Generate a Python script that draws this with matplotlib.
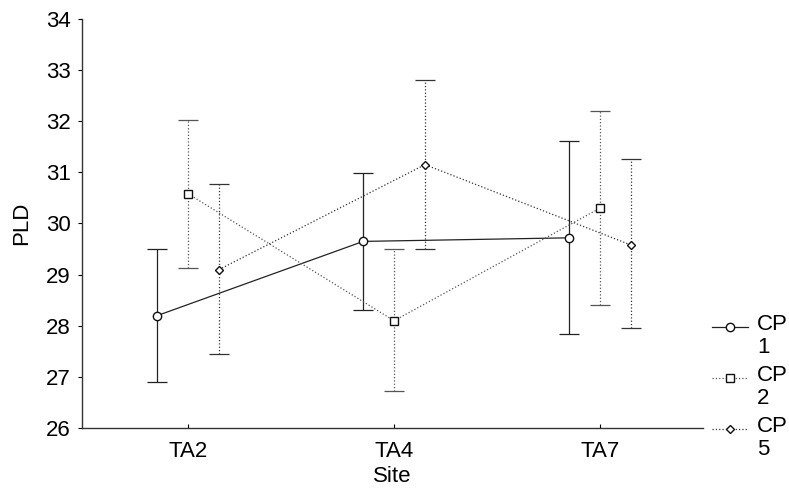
import numpy as np
import matplotlib.pyplot as plt
from matplotlib.lines import Line2D

plt.rcParams['font.family'] = ['Liberation Sans', 'DejaVu Sans']

# data
sites = ['TA2', 'TA4', 'TA7']
cp1_mean = [28.2, 29.65, 29.72]
cp1_low = [26.9, 28.3, 27.85]
cp1_high = [29.5, 30.98, 31.62]
cp2_mean = [30.58, 28.1, 30.3]
cp2_low = [29.13, 26.73, 28.4]
cp2_high = [32.03, 29.5, 32.2]
cp5_mean = [29.1, 31.15, 29.58]
cp5_low = [27.45, 29.5, 27.95]
cp5_high = [30.78, 32.8, 31.27]
legend_labels = ['CP\n1', 'CP\n2', 'CP\n5']

fig = plt.figure(figsize=(7.89, 4.95), dpi=100)
ax = fig.add_axes([0.104, 0.135, 0.787, 0.827])

x = np.arange(len(sites))
series = [
    (cp1_mean, cp1_low, cp1_high, -0.15, 'o', 6, '-', '#222222'),
    (cp2_mean, cp2_low, cp2_high, 0.0, 's', 6, ':', '#555555'),
    (cp5_mean, cp5_low, cp5_high, 0.15, 'D', 4.5, ':', '#333333'),
]

for m, lo, hi, off, mk, ms, ls, col in series:
    m = np.array(m)
    err = [m - np.array(lo), np.array(hi) - m]
    eb = ax.errorbar(x + off, m, yerr=err, fmt='none', ecolor=col,
                     elinewidth=0.9, capsize=7, capthick=0.9)
    for c in eb[2]:
        c.set_linestyle(ls)
    ax.plot(x + off, m, linestyle=ls, color=col, linewidth=0.9, zorder=3)
    ax.plot(x + off, m, linestyle='none', marker=mk, markersize=ms,
            markerfacecolor='white', markeredgecolor='#111111',
            markeredgewidth=1.0, zorder=4)

ax.set_xlim(-0.515, 2.5)
ax.set_ylim(26, 34)
ax.set_xticks(x)
ax.set_xticklabels(sites)
ax.set_yticks(range(26, 35))
ax.tick_params(axis='both', labelsize=16, length=3, width=0.8)
ax.tick_params(axis='y', pad=5)
ax.tick_params(axis='x', direction='in', pad=9)
ax.spines['top'].set_visible(False)
ax.spines['right'].set_visible(False)
for s in ['left', 'bottom']:
    ax.spines[s].set_linewidth(1.0)
    ax.spines[s].set_color('#333333')

ax.set_xlabel('Site', fontsize=16, labelpad=3)
ax.set_ylabel('PLD', fontsize=16, labelpad=10)

# legend drawn by hand to the right of the axes
row_y = [327, 378, 429]
for (m, lo, hi, off, mk, ms, ls, col), lab, py in zip(series, legend_labels, row_y):
    yf = 1 - py / 495
    fig.add_artist(Line2D([712 / 789, 748 / 789], [yf, yf], linestyle=ls,
                          color=col, linewidth=0.9))
    fig.add_artist(Line2D([730 / 789], [yf], linestyle='none', marker=mk,
                          markersize=ms, markerfacecolor='white',
                          markeredgecolor='#111111', markeredgewidth=1.0))
    fig.text(757 / 789, yf + 13 / 495, lab, fontsize=16, va='top', ha='left',
             linespacing=1.1)

fig.savefig('out.png', dpi=100)
